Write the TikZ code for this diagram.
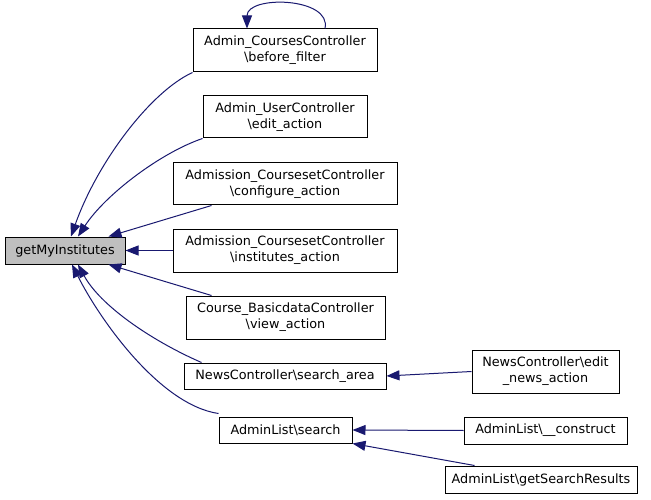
\documentclass[tikz,border=0pt]{standalone}
\usepackage{fontspec}
\setmainfont{DejaVu Sans}
\usetikzlibrary{arrows.meta}
\definecolor{edgeblue}{RGB}{25,25,112}
\definecolor{boxgray}{RGB}{191,191,191}
\begin{document}
\begin{tikzpicture}[x=1pt,y=-1pt,
  box/.style={draw=black,line width=1pt,fill=white,inner sep=0pt,align=center,
    font=\fontsize{12.8}{15.8}\selectfont},
  arr/.style={draw=edgeblue,line width=1pt,-{Triangle[length=13pt,width=10pt]}}]
\useasboundingbox (0,0) rectangle (651,500);
\fill[white] (0,0) rectangle (651,500);
\node[box,fill=boxgray,minimum width=120pt,minimum height=27pt] (gmi) at (65,250.5) {getMyInstitutes};
\node[box,minimum width=184pt,minimum height=43pt] (acc) at (285,50.5) {Admin\_CoursesController\\\textbackslash before\_filter};
\node[box,minimum width=164pt,minimum height=42pt] (auc) at (285,117) {Admin\_UserController\\\textbackslash edit\_action};
\node[box,minimum width=224pt,minimum height=42pt] (acfg) at (285,184) {Admission\_CoursesetController\\\textbackslash configure\_action};
\node[box,minimum width=224pt,minimum height=43pt] (ains) at (285,250.5) {Admission\_CoursesetController\\\textbackslash institutes\_action};
\node[box,minimum width=199pt,minimum height=43pt] (cbd) at (285.5,317.5) {Course\_BasicdataController\\\textbackslash view\_action};
\node[box,minimum width=202pt,minimum height=26pt] (nsa) at (285,376) {NewsController\textbackslash search\_area};
\node[box,minimum width=147pt,minimum height=43pt] (ned) at (545.5,371.5) {NewsController\textbackslash edit\\\_news\_action};
\node[box,minimum width=133pt,minimum height=26pt] (als) at (285.5,430) {AdminList\textbackslash search};
\node[box,minimum width=163pt,minimum height=27pt] (alc) at (545.5,430.5) {AdminList\textbackslash \_\_construct};
\node[box,minimum width=192pt,minimum height=27pt] (algs) at (541,479.5) {AdminList\textbackslash getSearchResults};
% edges
\draw[arr] (acc.south west) .. controls (150,92) and (97,163) .. ([xshift=6pt]gmi.north);
\draw[arr] (auc.south west) .. controls (160,153) and (105,195) .. ([xshift=13pt]gmi.north);
\draw[arr] ([xshift=39pt]acfg.south west) -- ([xshift=-17pt]gmi.north east);
\draw[arr] (ains.west) -- (gmi.east);
\draw[arr] ([xshift=26pt]cbd.north west) -- ([xshift=-17pt]gmi.south east);
\draw[arr] ([xshift=18pt]nsa.north west) .. controls (150,340) and (100,305) .. ([xshift=13pt]gmi.south);
\draw[arr] ([yshift=3pt]als.north west) .. controls (160,405) and (100,320) .. ([xshift=7pt]gmi.south);
\draw[arr] (ned.west) -- (nsa.east);
\draw[arr] (alc.west) -- (als.east);
\draw[arr] ([xshift=30pt]algs.north west) -- (als.south east);
\draw[arr] ([xshift=40pt]acc.north) .. controls (332,-3) and (247,-5) .. ([xshift=-38pt]acc.north);
\end{tikzpicture}
\end{document}
